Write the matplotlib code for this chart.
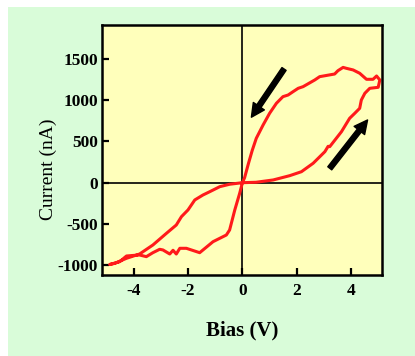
import matplotlib
matplotlib.use("Agg")
import matplotlib.pyplot as plt
from matplotlib.patches import Rectangle

plt.rcParams["axes.unicode_minus"] = False

# I-V hysteresis loop (bias in V, current in nA)
bias = [0.0, 0.5, 1.13, 1.74, 2.17, 2.6, 3.03, 3.15, 3.21, 3.64, 3.94, 4.13, 4.31, 4.37,
        4.5, 4.68, 4.99, 5.05, 4.93, 4.8, 4.56, 4.31, 4.07, 3.82, 3.7, 3.51, 3.39,
        2.84, 2.66, 2.23, 2.05, 1.86, 1.68, 1.49, 1.25, 1.0, 0.76, 0.51, 0.36, 0.22,
        0.08, 0.0, -0.1, -0.28, -0.47, -0.59, -1.08, -1.57, -2.06, -2.3, -2.43, -2.55,
        -2.67, -2.92, -3.04, -3.29, -3.53, -3.78, -4.0, -4.26, -4.51, -4.88,
        -4.69, -4.26, -3.78, -3.29, -2.79, -2.43, -2.24, -2.0, -1.75, -1.45, -1.2,
        -0.83, -0.47, 0.0]
current = [0, 5, 33, 85, 133, 235, 375, 440, 436, 617, 779, 840, 900, 1000,
           1082, 1142, 1154, 1243, 1291, 1251, 1251, 1324, 1364, 1384, 1395, 1355, 1315,
           1283, 1243, 1162, 1142, 1101, 1061, 1041, 961, 840, 698, 537, 390, 230,
           60, 0, -128, -330, -572, -633, -714, -847, -794, -794, -863, -818,
           -863, -814, -806, -847, -895, -875, -880, -887, -956, -990,
           -976, -915, -863, -754, -612, -512, -411, -330, -209, -149, -109,
           -48, -19, 0]

xticks = [-4, -2, 0, 2, 4]
yticks = [-1000, -500, 0, 500, 1000, 1500]

# sweep direction arrows (tail, head)
arrows = [((1.53, 1376), (0.33, 792)), ((3.21, 174), (4.6, 759))]

fig = plt.figure(figsize=(4.15, 3.56), dpi=100, facecolor="white")
bg = Rectangle((8 / 415, 0), 1, 1 - 7 / 356, transform=fig.transFigure,
               facecolor="#d9fcd9", edgecolor="none", zorder=-10)
fig.add_artist(bg)

ax = fig.add_axes([102 / 415, 1 - 275 / 356, 280 / 415, 250 / 356])
ax.set_zorder(1)
ax.set_facecolor("#ffffbb")

ax.axhline(0, color="black", lw=1.2, zorder=1)
ax.axvline(0, color="black", lw=1.2, zorder=1)
ax.plot(bias, current, color="#ff1a1a", lw=2.2, solid_joinstyle="round", zorder=2)

for (x0, y0), (x1, y1) in arrows:
    ax.annotate("", xy=(x1, y1), xytext=(x0, y0),
                arrowprops=dict(arrowstyle="simple,head_length=0.8,head_width=0.8,tail_width=0.3",
                                mutation_scale=12, color="black", shrinkA=0, shrinkB=0))

ax.set_xlim(-5.16, 5.13)
ax.set_ylim(-1117, 1908)
ax.set_xticks(xticks)
ax.set_yticks(yticks)
ax.tick_params(direction="in", length=5, width=1.6, top=False, right=False)
ax.tick_params(axis="x", pad=6)
ax.tick_params(axis="y", pad=3)
for lab in ax.get_xticklabels() + ax.get_yticklabels():
    lab.set_fontfamily("Liberation Serif")
    lab.set_fontweight("bold")
    lab.set_fontsize(12.5)
for s in ax.spines.values():
    s.set_linewidth(1.8)

ax.set_xlabel("Bias (V)", fontfamily="Liberation Serif", fontweight="bold", fontsize=15, va="center")
ax.xaxis.set_label_coords(0.5, -0.22)
ax.set_ylabel("Current (nA)", fontfamily="Liberation Serif", fontsize=14, va="center")
ax.yaxis.set_label_coords(-0.193, 0.424)

fig.savefig("out.png", dpi=100)
